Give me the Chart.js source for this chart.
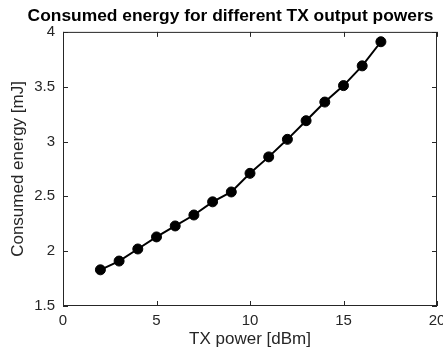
<!DOCTYPE html>
<html>
<head>
<meta charset="utf-8">
<script src="https://cdn.jsdelivr.net/npm/chart.js@4"></script>
<style>
  html, body { margin: 0; padding: 0; background: #fff; }
  #wrap { width: 443px; height: 356px; }
</style>
</head>
<body>
<div id="wrap"><canvas id="chart" width="443" height="356"></canvas></div>
<script>
const txPower = [2, 3, 4, 5, 6, 7, 8, 9, 10, 11, 12, 13, 14, 15, 16, 17];
const energy = [1.83, 1.91, 2.02, 2.13, 2.23, 2.33, 2.45, 2.54, 2.71, 2.86, 3.02, 3.19, 3.36, 3.51, 3.69, 3.91];
const xTicks = [0, 5, 10, 15, 20];
const yTicks = [1.5, 2, 2.5, 3, 3.5, 4];

const FONT = "'Liberation Sans', Arial, Helvetica, sans-serif";
const AXIS_COLOR = "#262626";

// box around the plot with inward ticks on all four sides
const boxPlugin = {
  id: "box",
  afterDraw(chart) {
    const { ctx, chartArea: a, scales } = chart;
    const len = 5;
    ctx.save();
    ctx.strokeStyle = AXIS_COLOR;
    ctx.lineWidth = 1;
    ctx.strokeRect(a.left + 0.5, a.top + 0.5, a.right - a.left - 1, a.bottom - a.top - 1);
    ctx.beginPath();
    xTicks.forEach((v) => {
      const x = Math.round(scales.x.getPixelForValue(v)) + 0.5;
      ctx.moveTo(x, a.bottom);
      ctx.lineTo(x, a.bottom - len);
      ctx.moveTo(x, a.top);
      ctx.lineTo(x, a.top + len);
    });
    yTicks.forEach((v) => {
      const y = Math.round(scales.y.getPixelForValue(v)) + 0.5;
      ctx.moveTo(a.left, y);
      ctx.lineTo(a.left + len, y);
      ctx.moveTo(a.right, y);
      ctx.lineTo(a.right - len, y);
    });
    ctx.stroke();
    ctx.restore();
  },
};

// keep edge tick labels from pushing the plot area inward
function noEdgePadding(s) {
  s.paddingLeft = 0;
  s.paddingRight = 0;
  s.paddingTop = 0;
  s.paddingBottom = 0;
}

new Chart(document.getElementById("chart"), {
  type: "line",
  data: {
    datasets: [
      {
        data: txPower.map((x, i) => ({ x, y: energy[i] })),
        borderColor: "#000",
        backgroundColor: "#000",
        borderWidth: 2,
        pointRadius: 5,
        pointBorderWidth: 1,
        pointBackgroundColor: "#000",
        pointBorderColor: "#000",
        tension: 0,
        clip: false,
      },
    ],
  },
  options: {
    responsive: false,
    animation: false,
    layout: { padding: { left: 24, right: 6, top: 0, bottom: 0 } },
    plugins: {
      legend: { display: false },
      tooltip: { enabled: false },
      title: {
        display: true,
        text: "Consumed energy for different TX output powers",
        color: "#000",
        font: { family: FONT, size: 17.4, weight: "bold" },
        padding: { top: 6, bottom: 5 },
      },
    },
    scales: {
      x: {
        type: "linear",
        min: 0,
        max: 20,
        afterBuildTicks: (s) => { s.ticks = xTicks.map((v) => ({ value: v })); },
        afterFit: (s) => { s.height = 50; noEdgePadding(s); },
        grid: { display: false, drawTicks: false },
        border: { display: false },
        ticks: { color: AXIS_COLOR, font: { family: FONT, size: 15 }, padding: 6, maxRotation: 0 },
        title: {
          display: true,
          text: "TX power [dBm]",
          color: AXIS_COLOR,
          font: { family: FONT, size: 17 },
          padding: { top: 0, bottom: 6 },
        },
      },
      y: {
        type: "linear",
        min: 1.5,
        max: 4,
        afterBuildTicks: (s) => { s.ticks = yTicks.map((v) => ({ value: v })); },
        afterFit: (s) => { s.width = 39; noEdgePadding(s); },
        grid: { display: false, drawTicks: false },
        border: { display: false },
        ticks: { color: AXIS_COLOR, font: { family: FONT, size: 15 }, padding: 8, callback: (v) => String(v) },
        title: {
          display: true,
          text: "Consumed energy [mJ]",
          color: AXIS_COLOR,
          font: { family: FONT, size: 17 },
          padding: { top: -16, bottom: 0 },
        },
      },
    },
  },
  plugins: [boxPlugin],
});
</script>
</body>
</html>
